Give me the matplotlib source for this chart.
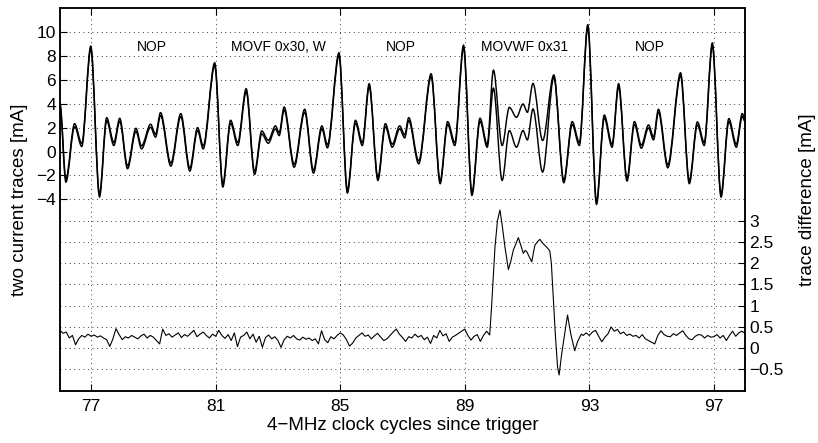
import matplotlib
matplotlib.use("Agg")
import matplotlib.pyplot as plt
from matplotlib.path import Path
from matplotlib.patches import PathPatch
import numpy as np

plt.rcParams['font.family'] = ['Liberation Sans', 'DejaVu Sans']

# first current trace: peaks and troughs (cycles, mA)
trace_x = [76.00, 76.19, 76.47, 76.70, 76.99, 77.27, 77.50, 77.73, 77.92, 78.17,
           78.44, 78.62, 78.91, 79.07, 79.23, 79.56, 79.88, 80.17, 80.42, 80.60,
           80.97, 81.23, 81.48, 81.71, 81.98, 82.25, 82.48, 82.69, 82.92, 83.04,
           83.20, 83.52, 83.86, 84.14, 84.41, 84.59, 84.96, 85.23, 85.49, 85.71,
           85.93, 86.21, 86.45, 86.67, 86.91, 87.07, 87.20, 87.52, 87.92, 88.21,
           88.45, 88.68, 88.96, 89.23, 89.49, 89.72, 89.92, 90.20, 90.43, 90.66,
           90.87, 91.01, 91.19, 91.50, 91.86, 92.18, 92.45, 92.68, 92.95, 93.23,
           93.48, 93.73, 93.94, 94.21, 94.45, 94.67, 94.90, 95.06, 95.22, 95.52,
           95.93, 96.21, 96.47, 96.69, 96.95, 97.23, 97.48, 97.72, 97.91, 98.00]
trace_a = [3.8, -2.56, 2.08, 0.42, 8.56, -3.8, 2.58, 0.5, 2.53, -1.44,
           1.69, 0.22, 2.03, 1.2, 3.0, -1.22, 2.92, -1.64, 1.75, 0.22,
           7.17, -2.97, 2.36, 0.5, 5.0, -1.92, 1.47, 0.69, 1.89, 1.33,
           3.47, -1.31, 3.28, -1.81, 1.89, 0.31, 8.0, -3.47, 2.36, 0.5,
           5.42, -2.42, 2.08, 0.36, 1.89, 1.14, 2.58, -1.03, 6.25, -2.69,
           2.25, 0.5, 8.64, -3.67, 2.53, 0.36, 5.3, -2.42, 1.75, 0.36,
           1.75, 0.97, 3.56, -1.72, 6.19, -2.61, 2.25, 0.5, 10.36, -4.42,
           2.8, 0.36, 5.42, -2.47, 2.25, 0.28, 1.97, 0.97, 3.28, -1.36,
           6.33, -2.69, 2.22, 0.5, 8.83, -3.81, 2.5, 0.36, 2.92, 2.5]

# second trace: sits ~0.25 mA above the first, except during MOVWF
B_OFFSET = 0.25
movwf_x = [89.72, 89.92, 90.20, 90.43, 90.66, 90.87, 91.01, 91.19, 91.50, 91.86, 92.18]
movwf_b = [0.6, 6.8, 0.5, 3.69, 2.86, 3.97, 3.28, 5.69, 0.92, 6.4, -2.4]

# trace difference (right axis)
diff_before = [0.42, 0.35, 0.38, 0.24, 0.30, 0.08, 0.22, 0.30, 0.26, 0.33,
               0.28, 0.31, 0.26, 0.29, 0.24, 0.20, 0.04, 0.22, 0.46, 0.32,
               0.20, 0.27, 0.24, 0.30, 0.26, 0.22, 0.29, 0.33, 0.24, 0.30,
               0.26, 0.18, 0.10, 0.45, 0.30, 0.34, 0.26, 0.31, 0.36, 0.25,
               0.32, 0.28, 0.35, 0.42, 0.27, 0.33, 0.38, 0.30, 0.24, 0.33,
               0.28, 0.42, 0.30, 0.23, 0.32, 0.18, 0.36, 0.04, 0.26, 0.30,
               0.38, 0.22, 0.33, 0.14, 0.28, 0.02, 0.25, 0.31, 0.22, 0.27,
               0.18, 0.02, 0.20, 0.28, 0.24, 0.30, 0.22, 0.19, 0.26, 0.21,
               0.24, 0.18, 0.22, 0.10, 0.41, 0.20, 0.13, 0.27, 0.22, 0.30,
               0.36, 0.31, 0.20, 0.05, 0.12, 0.24, 0.30, 0.36, 0.28, 0.31,
               0.22, 0.29, 0.35, 0.26, 0.18, 0.22, 0.30, 0.38, 0.45, 0.33,
               0.25, 0.16, 0.27, 0.24, 0.33, 0.26, 0.30, 0.20, 0.26, 0.11,
               0.30, 0.24, 0.42, 0.29, 0.34, 0.16, 0.26, 0.30, 0.35, 0.40,
               0.45, 0.30, 0.19, 0.28, 0.32, 0.16, 0.30, 0.40, 0.31]
event_x = [89.86, 89.97, 90.05, 90.13, 90.20, 90.29, 90.40, 90.48, 90.56, 90.64,
           90.72, 90.80, 90.88, 90.94, 90.99, 91.07, 91.15, 91.25, 91.33, 91.41,
           91.49, 91.57, 91.65, 91.73, 91.78, 91.84, 91.91, 91.98, 92.03, 92.10,
           92.21, 92.30, 92.40, 92.53, 92.62, 92.74]
event_d = [0.97, 2.38, 3.0, 3.25, 2.9, 2.38, 1.85, 2.05, 2.31, 2.45,
           2.6, 2.42, 2.23, 2.30, 2.27, 2.15, 2.03, 2.42, 2.50, 2.56,
           2.48, 2.42, 2.36, 2.29, 2.0, 1.21, 0.3, -0.44, -0.63, -0.2,
           0.35, 0.78, 0.35, -0.06, 0.15, 0.33]
diff_after = [0.30, 0.36, 0.30, 0.38, 0.42, 0.28, 0.15, 0.26, 0.34, 0.50,
              0.40, 0.44, 0.34, 0.38, 0.30, 0.33, 0.28, 0.30, 0.24, 0.32,
              0.22, 0.18, 0.14, 0.10, 0.30, 0.41, 0.32, 0.28, 0.27, 0.34,
              0.30, 0.36, 0.41, 0.30, 0.22, 0.20, 0.28, 0.32, 0.31, 0.24,
              0.30, 0.26, 0.27, 0.32, 0.24, 0.30, 0.18, 0.30, 0.40, 0.28,
              0.36, 0.40, 0.35]

labels = ["NOP", "MOVF 0x30, W", "NOP", "MOVWF 0x31", "NOP"]
label_x = [78.95, 83.0, 86.96, 90.93, 94.93]
label_y = 8.7

left_ticks = [-4, -2, 0, 2, 4, 6, 8, 10]
right_ticks = [-0.5, 0, 0.5, 1, 1.5, 2, 2.5, 3]
x_ticks = [77, 81, 85, 89, 93, 97]


def wave_path(xs, ys, f=0.33):
    # smooth curve through the read extrema: flat tangent at each peak/trough
    verts = [(xs[0], ys[0])]
    codes = [Path.MOVETO]
    for i in range(len(xs) - 1):
        dx = xs[i + 1] - xs[i]
        verts += [(xs[i] + f * dx, ys[i]), (xs[i + 1] - f * dx, ys[i + 1]),
                  (xs[i + 1], ys[i + 1])]
        codes += [Path.CURVE4] * 3
    return Path(verts, codes)


# assemble second trace and difference series
tx = np.array(trace_x)
ta = np.array(trace_a)
keep_lo = tx < movwf_x[0]
keep_hi = tx > movwf_x[-1]
tb_x = np.concatenate([tx[keep_lo], movwf_x, tx[keep_hi]])
tb_y = np.concatenate([ta[keep_lo] + B_OFFSET, movwf_b, ta[keep_hi] + B_OFFSET])

d_x = np.concatenate([np.round(76.0 + 0.1 * np.arange(len(diff_before)), 2),
                      event_x,
                      np.round(92.8 + 0.1 * np.arange(len(diff_after)), 2)])
d_y = np.concatenate([diff_before, event_d, diff_after])

fig = plt.figure(figsize=(8.18, 4.43), dpi=100)
ax = fig.add_axes([0.0733, 0.118, 0.8375, 0.864])
ax2 = ax.twinx()

grid_kw = dict(color='black', linestyle=(0, (1, 4.5)), linewidth=0.6)

for xs, ys in ((tx, ta), (tb_x, tb_y)):
    ax.add_patch(PathPatch(wave_path(xs, ys), facecolor='none',
                           edgecolor='black', linewidth=1.05))
ax2.plot(d_x, d_y, color='black', linewidth=0.8)

for name, xpos in zip(labels, label_x):
    ax.text(xpos, label_y, name, ha='center', va='center', fontsize=10)

ax.set_xlim(76, 98)
ax.set_ylim(-20, 12)
ax2.set_ylim(-1, 8)
ax.set_xticks(x_ticks)
ax.set_yticks(left_ticks)
ax2.set_yticks(right_ticks)
ax2.set_yticklabels([f"{v:g}".replace('-', '\u2212') for v in right_ticks])

ax.grid(True, **grid_kw)
ax2.grid(True, axis='y', **grid_kw)
ax.set_axisbelow(True)

ax.tick_params(axis='x', direction='in', top=True, length=5, labelsize=12.5, pad=6)
ax.tick_params(axis='y', direction='in', length=5, labelsize=12.5, pad=3)
ax2.tick_params(axis='y', direction='in', length=5, labelsize=12.5, pad=3)

for a in (ax, ax2):
    for s in a.spines.values():
        s.set_linewidth(1.1)

ax.set_xlabel("4\u2212MHz clock cycles since trigger", fontsize=13.5, labelpad=2)
ax.set_ylabel("two current traces [mA]", fontsize=13.5, labelpad=6)
ax2.set_ylabel("trace difference [mA]", fontsize=13.5, labelpad=11)

fig.savefig("out.png", dpi=100)
